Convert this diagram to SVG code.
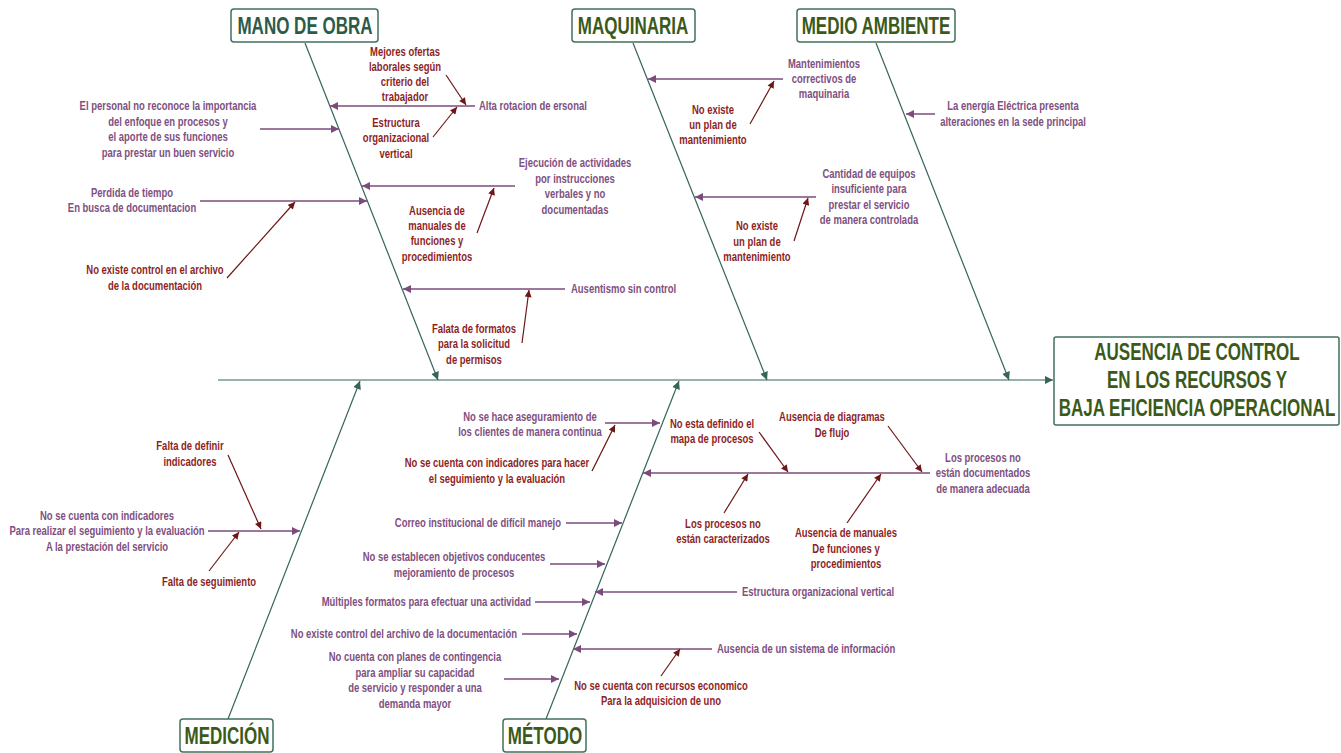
<svg xmlns="http://www.w3.org/2000/svg" width="1341" height="753" viewBox="0 0 1341 753">
<defs>
<style>
.bg{fill:#ffffff}
.box{fill:#ffffff;stroke:#41705e;stroke-width:1.5}
.ttl{font-family:"Liberation Sans",Arial,sans-serif;font-weight:bold;font-size:23px;fill:#3b5a1a;text-anchor:middle;dominant-baseline:central}
.eff{font-family:"Liberation Sans",Arial,sans-serif;font-weight:bold;font-size:23px;fill:#3b5a1a;text-anchor:middle;dominant-baseline:central}
.p{font-family:"Liberation Sans",Arial,sans-serif;font-weight:bold;font-size:12px;fill:#80507f;dominant-baseline:central}
.r{font-family:"Liberation Sans",Arial,sans-serif;font-weight:bold;font-size:12px;fill:#8e1f1f;dominant-baseline:central}
.m{text-anchor:middle}
.s{text-anchor:start}
.e{text-anchor:end}
.bone{stroke:#35645a;stroke-width:1.2;fill:none;marker-end:url(#ag)}
.pl{stroke:#7b4b7b;stroke-width:1.5;fill:none;marker-end:url(#ap)}
.rl{stroke:#6e1616;stroke-width:1.2;fill:none;marker-end:url(#ar)}
</style>
<marker id="ag" viewBox="0 0 10 10" refX="10" refY="5" markerWidth="9" markerHeight="8" markerUnits="userSpaceOnUse" orient="auto"><path d="M0,0 L10,5 L0,10 z" fill="#35645a"/></marker>
<marker id="ap" viewBox="0 0 10 10" refX="10" refY="5" markerWidth="8" markerHeight="8" markerUnits="userSpaceOnUse" orient="auto"><path d="M0,0 L10,5 L0,10 z" fill="#7b4b7b"/></marker>
<marker id="ar" viewBox="0 0 10 10" refX="10" refY="5" markerWidth="8" markerHeight="7" markerUnits="userSpaceOnUse" orient="auto"><path d="M0,0 L10,5 L0,10 z" fill="#6e1616"/></marker>
</defs>
<rect class="bg" x="0" y="0" width="1341" height="753"/>

<g id="connectors">
<line class="bone" x1="218" y1="380" x2="1053" y2="380"/>
<line class="bone" x1="305" y1="43" x2="438" y2="380"/>
<line class="bone" x1="633" y1="43" x2="767" y2="380"/>
<line class="bone" x1="876" y1="43" x2="1009" y2="380"/>
<line class="bone" x1="228" y1="719" x2="360" y2="381"/>
<line class="bone" x1="546" y1="719" x2="679" y2="381"/>
<line class="pl" x1="475" y1="106" x2="330" y2="106"/>
<line class="rl" x1="446" y1="75" x2="466" y2="105"/>
<line class="rl" x1="433" y1="137" x2="457" y2="107"/>
<line class="pl" x1="260" y1="129" x2="339" y2="129"/>
<line class="pl" x1="515" y1="186" x2="362" y2="186"/>
<line class="rl" x1="477" y1="233" x2="494" y2="188"/>
<line class="pl" x1="200" y1="201" x2="367" y2="201"/>
<line class="rl" x1="227" y1="278" x2="295" y2="202"/>
<line class="pl" x1="565" y1="289" x2="403" y2="289"/>
<line class="rl" x1="522" y1="343" x2="529" y2="290"/>
<line class="pl" x1="783" y1="79" x2="648" y2="79"/>
<line class="rl" x1="750" y1="124" x2="774" y2="81"/>
<line class="pl" x1="816" y1="197" x2="695" y2="197"/>
<line class="rl" x1="794" y1="241" x2="808" y2="198"/>
<line class="pl" x1="935" y1="114" x2="906" y2="114"/>
<line class="pl" x1="208" y1="531" x2="300" y2="531"/>
<line class="rl" x1="228" y1="455" x2="261" y2="529"/>
<line class="rl" x1="209" y1="571" x2="239" y2="532"/>
<line class="pl" x1="605" y1="423" x2="660" y2="423"/>
<line class="rl" x1="592" y1="471" x2="615" y2="425"/>
<line class="pl" x1="566" y1="523" x2="622" y2="523"/>
<line class="pl" x1="550" y1="564" x2="605" y2="564"/>
<line class="pl" x1="535" y1="602" x2="590" y2="602"/>
<line class="pl" x1="522" y1="634" x2="577" y2="634"/>
<line class="pl" x1="504" y1="679" x2="559" y2="679"/>
<line class="pl" x1="930" y1="473" x2="643" y2="473"/>
<line class="rl" x1="759" y1="432" x2="788" y2="472"/>
<line class="rl" x1="888" y1="426" x2="922" y2="472"/>
<line class="rl" x1="724" y1="513" x2="748" y2="474"/>
<line class="rl" x1="847" y1="523" x2="881" y2="474"/>
<line class="pl" x1="737" y1="592" x2="595" y2="592"/>
<line class="pl" x1="712" y1="649" x2="573" y2="649"/>
<line class="rl" x1="661" y1="676" x2="680" y2="649"/>
</g>

<g id="effect">
<rect class="box" x="1054" y="337" width="285" height="88" rx="2"/>
<text class="eff" transform="matrix(0.74,0,0,1,311.22,0)"><tspan x="1197" y="352">AUSENCIA DE CONTROL</tspan><tspan x="1197" y="380">EN LOS RECURSOS Y</tspan><tspan x="1197" y="408">BAJA EFICIENCIA OPERACIONAL</tspan></text>
</g>

<g id="cat-mano-de-obra">
<rect class="box" x="231" y="9" width="147" height="33" rx="3"/>
<text class="ttl" x="305" y="26" transform="matrix(0.74,0,0,1,79.3,0)" style="fill:#2c5b48">MANO DE OBRA</text>
</g>
<g id="cat-maquinaria">
<rect class="box" x="572" y="9" width="123" height="33" rx="3"/>
<text class="ttl" x="633" y="26" transform="matrix(0.74,0,0,1,164.58,0)">MAQUINARIA</text>
</g>
<g id="cat-medio-ambiente">
<rect class="box" x="797" y="9" width="158" height="33" rx="3"/>
<text class="ttl" x="876" y="26" transform="matrix(0.74,0,0,1,227.76,0)">MEDIO AMBIENTE</text>
</g>
<g id="cat-medicion">
<rect class="box" x="180" y="719" width="93" height="33" rx="3"/>
<text class="ttl" x="227" y="736" transform="matrix(0.74,0,0,1,59.02,0)">MEDICIÓN</text>
</g>
<g id="cat-metodo">
<rect class="box" x="503" y="719" width="83" height="33" rx="3"/>
<text class="ttl" x="545" y="736" transform="matrix(0.74,0,0,1,141.7,0)">MÉTODO</text>
</g>

<g id="c-alta-rotacion"><text class="p s" x="479" y="106" transform="matrix(0.79,0,0,1,100.59,0)">Alta rotacion de ersonal</text></g>
<g id="c-mejores-ofertas"><text class="r m" transform="matrix(0.79,0,0,1,85.05,0)"><tspan x="405" y="52">Mejores ofertas</tspan><tspan x="405" y="67">laborales según</tspan><tspan x="405" y="82">criterio del</tspan><tspan x="405" y="97">trabajador</tspan></text></g>
<g id="c-estructura-1"><text class="r m" transform="matrix(0.79,0,0,1,83.16,0)"><tspan x="396" y="123">Estructura</tspan><tspan x="396" y="138">organizacional</tspan><tspan x="396" y="154">vertical</tspan></text></g>
<g id="c-personal"><text class="p m" transform="matrix(0.79,0,0,1,35.28,0)"><tspan x="168" y="106">El personal no reconoce la importancia</tspan><tspan x="168" y="122">del enfoque en procesos y</tspan><tspan x="168" y="137">el aporte de sus funciones</tspan><tspan x="168" y="153">para prestar un buen servicio</tspan></text></g>
<g id="c-ejecucion"><text class="p m" transform="matrix(0.79,0,0,1,120.75,0)"><tspan x="575" y="163">Ejecución de actividades</tspan><tspan x="575" y="179">por instrucciones</tspan><tspan x="575" y="194">verbales y no</tspan><tspan x="575" y="210">documentadas</tspan></text></g>
<g id="c-ausencia-manuales-1"><text class="r m" transform="matrix(0.79,0,0,1,91.77,0)"><tspan x="437" y="211">Ausencia de</tspan><tspan x="437" y="226">manuales de</tspan><tspan x="437" y="241">funciones y</tspan><tspan x="437" y="257">procedimientos</tspan></text></g>
<g id="c-perdida"><text class="p m" transform="matrix(0.79,0,0,1,27.72,0)"><tspan x="132" y="193">Perdida de tiempo</tspan><tspan x="132" y="208">En busca de documentacion</tspan></text></g>
<g id="c-no-control-archivo"><text class="r m" transform="matrix(0.79,0,0,1,32.55,0)"><tspan x="155" y="270">No existe control en el archivo</tspan><tspan x="155" y="286">de la documentación</tspan></text></g>
<g id="c-ausentismo"><text class="p s" x="571" y="289" transform="matrix(0.79,0,0,1,119.91,0)">Ausentismo sin control</text></g>
<g id="c-falata"><text class="r m" transform="matrix(0.79,0,0,1,99.54,0)"><tspan x="474" y="329">Falata de formatos</tspan><tspan x="474" y="344">para la solicitud</tspan><tspan x="474" y="360">de permisos</tspan></text></g>

<g id="c-mantenimientos"><text class="p m" transform="matrix(0.79,0,0,1,173.04,0)"><tspan x="824" y="64">Mantenimientos</tspan><tspan x="824" y="79">correctivos de</tspan><tspan x="824" y="94">maquinaria</tspan></text></g>
<g id="c-no-plan-1"><text class="r m" transform="matrix(0.79,0,0,1,149.73,0)"><tspan x="713" y="110">No existe</tspan><tspan x="713" y="125">un plan de</tspan><tspan x="713" y="140">mantenimiento</tspan></text></g>
<g id="c-cantidad"><text class="p m" transform="matrix(0.79,0,0,1,182.49,0)"><tspan x="869" y="174">Cantidad de equipos</tspan><tspan x="869" y="189">insuficiente para</tspan><tspan x="869" y="205">prestar el servicio</tspan><tspan x="869" y="220">de manera controlada</tspan></text></g>
<g id="c-no-plan-2"><text class="r m" transform="matrix(0.79,0,0,1,158.97,0)"><tspan x="757" y="226">No existe</tspan><tspan x="757" y="242">un plan de</tspan><tspan x="757" y="257">mantenimiento</tspan></text></g>

<g id="c-energia"><text class="p m" transform="matrix(0.79,0,0,1,212.73,0)"><tspan x="1013" y="106">La energía Eléctrica presenta</tspan><tspan x="1013" y="122">alteraciones en la sede principal</tspan></text></g>

<g id="c-indicadores"><text class="p m" transform="matrix(0.79,0,0,1,22.47,0)"><tspan x="107" y="516">No se cuenta con indicadores</tspan><tspan x="107" y="531">Para realizar el seguimiento y la evaluación</tspan><tspan x="107" y="547">A la prestación del servicio</tspan></text></g>
<g id="c-falta-definir"><text class="r m" transform="matrix(0.79,0,0,1,39.9,0)"><tspan x="190" y="446">Falta de definir</tspan><tspan x="190" y="462">indicadores</tspan></text></g>
<g id="c-falta-seguimiento"><text class="r m" x="209" y="582" transform="matrix(0.79,0,0,1,43.89,0)">Falta de seguimiento</text></g>

<g id="c-aseguramiento"><text class="p m" transform="matrix(0.79,0,0,1,111.3,0)"><tspan x="530" y="417">No se hace aseguramiento de</tspan><tspan x="530" y="432">los clientes de manera continua</tspan></text></g>
<g id="c-no-indicadores"><text class="r m" transform="matrix(0.79,0,0,1,104.37,0)"><tspan x="497" y="463">No se cuenta con indicadores para hacer</tspan><tspan x="497" y="479">el seguimiento y la evaluación</tspan></text></g>
<g id="c-correo"><text class="p e" x="561" y="523" transform="matrix(0.79,0,0,1,117.81,0)">Correo institucional de difícil manejo</text></g>
<g id="c-objetivos"><text class="p m" transform="matrix(0.79,0,0,1,95.34,0)"><tspan x="454" y="557">No se establecen objetivos conducentes</tspan><tspan x="454" y="573">mejoramiento de procesos</tspan></text></g>
<g id="c-multiples"><text class="p e" x="531" y="602" transform="matrix(0.79,0,0,1,111.51,0)">Múltiples formatos para efectuar una actividad</text></g>
<g id="c-archivo"><text class="p e" x="517" y="634" transform="matrix(0.79,0,0,1,108.57,0)">No existe control del archivo de la documentación</text></g>
<g id="c-contingencia"><text class="p m" transform="matrix(0.79,0,0,1,87.15,0)"><tspan x="415" y="657">No cuenta con planes de contingencia</tspan><tspan x="415" y="673">para ampliar su capacidad</tspan><tspan x="415" y="688">de servicio y responder a una</tspan><tspan x="415" y="704">demanda mayor</tspan></text></g>
<g id="c-procesos-doc"><text class="p m" transform="matrix(0.79,0,0,1,206.43,0)"><tspan x="983" y="458">Los procesos no</tspan><tspan x="983" y="473">están documentados</tspan><tspan x="983" y="489">de manera adecuada</tspan></text></g>
<g id="c-mapa"><text class="r m" transform="matrix(0.79,0,0,1,149.52,0)"><tspan x="712" y="424">No esta definido el</tspan><tspan x="712" y="439">mapa de procesos</tspan></text></g>
<g id="c-diagramas"><text class="r m" transform="matrix(0.79,0,0,1,174.72,0)"><tspan x="832" y="417">Ausencia de diagramas</tspan><tspan x="832" y="433">De flujo</tspan></text></g>
<g id="c-caracterizados"><text class="r m" transform="matrix(0.79,0,0,1,151.83,0)"><tspan x="723" y="524">Los procesos no</tspan><tspan x="723" y="539">están caracterizados</tspan></text></g>
<g id="c-ausencia-manuales-2"><text class="r m" transform="matrix(0.79,0,0,1,177.66,0)"><tspan x="846" y="533">Ausencia de manuales</tspan><tspan x="846" y="549">De funciones y</tspan><tspan x="846" y="564">procedimientos</tspan></text></g>
<g id="c-estructura-2"><text class="p s" x="742" y="592" transform="matrix(0.79,0,0,1,155.82,0)">Estructura organizacional vertical</text></g>
<g id="c-sistema-info"><text class="p s" x="717" y="649" transform="matrix(0.79,0,0,1,150.57,0)">Ausencia de un sistema de información</text></g>
<g id="c-recursos"><text class="r m" transform="matrix(0.79,0,0,1,138.81,0)"><tspan x="661" y="686">No se cuenta con recursos economico</tspan><tspan x="661" y="701">Para la adquisicion de uno</tspan></text></g>
</svg>
